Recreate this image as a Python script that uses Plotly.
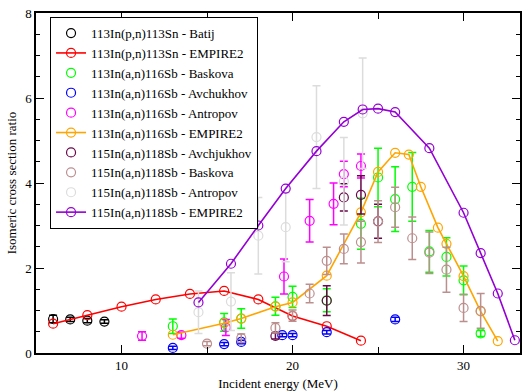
import plotly.graph_objects as go

# 113In(p,n)113Sn - Batij
batij_E = [6, 7, 8, 9]
batij_v = [0.80, 0.79, 0.76, 0.74]
batij_e = [0.09, 0.05, 0.05, 0.04]

# 113In(p,n)113Sn - EMPIRE2
emp1_E = [6, 8, 10, 12, 14, 16, 18, 20, 22, 24]
emp1_v = [0.69, 0.89, 1.09, 1.26, 1.39, 1.46, 1.26, 0.87, 0.63, 0.29]

# 113In(a,n)116Sb - Baskova
bask116_E = [13, 16, 17, 19, 20, 22, 24, 25, 26, 27, 28, 29, 30, 31]
bask116_v = [0.63, 0.72, 0.81, 1.10, 1.32, 1.24, 3.04, 4.13, 3.62, 3.91, 2.39, 2.26, 1.71, 0.46]
bask116_e = [0.17, 0.21, 0.23, 0.21, 0.25, 0.27, 0.60, 0.69, 0.76, 0.81, 0.49, 0.45, 0.34, 0.07]

# 113In(a,n)116Sb - Avchukhov
avch116_E = [13, 16, 17, 19.4, 20, 22, 26]
avch116_v = [0.12, 0.21, 0.26, 0.42, 0.42, 0.49, 0.79]
avch116_e = [0.04, 0.04, 0.04, 0.04, 0.04, 0.04, 0.05]

# 113In(a,n)116Sb - Antropov
antr116_E = [11.2, 13.5, 16.1, 19.5, 21, 22.4, 23, 24]
antr116_v = [0.40, 0.42, 0.60, 1.80, 3.11, 3.51, 4.21, 4.40]
antr116_e = [0.10, 0.07, 0.19, 0.41, 0.50, 0.49, 0.30, 0.28]

# 113In(a,n)116Sb - EMPIRE2
emp2_E = [13, 16, 17, 19, 20, 22, 24, 25, 26, 26.8, 27.5, 28.5, 29, 30, 31, 32]
emp2_v = [0.43, 0.70, 0.81, 1.09, 1.19, 1.82, 3.31, 4.26, 4.71, 4.67, 3.91, 2.95, 2.57, 1.81, 0.98, 0.28]

# 115In(a,n)118Sb - Avchjukhov
avch118_E = [19, 22, 23, 24, 25]
avch118_v = [0.40, 1.23, 3.66, 3.72, 3.10]
avch118_e = [0.07, 0.35, 0.32, 0.45, 0.40]

# 115In(a,n)118Sb - Baskova
bask118_E = [15, 17, 19, 20, 21, 22, 23, 24, 25, 26, 27, 28, 29, 30, 31]
bask118_v = [0.22, 0.35, 0.59, 0.88, 1.40, 2.17, 2.45, 2.61, 3.09, 3.43, 2.70, 2.36, 1.96, 1.06, 0.99]
bask118_e = [0.05, 0.10, 0.12, 0.13, 0.22, 0.32, 0.35, 0.49, 0.49, 0.47, 0.50, 0.49, 0.53, 0.32, 0.41]

# 115In(a,n)118Sb - Antropov
antr118_E = [14.5, 16.4, 18, 19.6, 21.4, 23, 24.1]
antr118_v = [0.96, 1.21, 2.76, 2.96, 5.08, 4.04, 5.64]
antr118_e = [0.50, 0.68, 0.90, 0.81, 1.21, 1.03, 1.30]

# 115In(a,n)118Sb - EMPIRE2
emp3_E = [14.5, 16.4, 18, 19.6, 21.4, 23, 24.1, 25, 26, 28, 30, 31, 32, 33]
emp3_v = [1.19, 2.10, 3.00, 3.87, 4.75, 5.44, 5.73, 5.75, 5.67, 4.82, 3.30, 2.35, 1.40, 0.30]

FONT = "Liberation Serif"

fig = go.Figure()


def data_trace(name, x, y, e, color):
    fig.add_trace(go.Scatter(
        x=x, y=y, name=name, mode="markers",
        marker=dict(symbol="circle-open", size=9, color=color, line=dict(width=1.2, color=color)),
        error_y=dict(type="data", array=e, visible=True, color=color, thickness=1.5, width=4),
    ))


def model_trace(name, x, y, color):
    fig.add_trace(go.Scatter(
        x=x, y=y, name=name, mode="lines+markers",
        line=dict(color=color, width=1.6),
        marker=dict(symbol="circle-open", size=9, color=color, line=dict(width=1.2, color=color)),
    ))


data_trace("113In(p,n)113Sn - Batij", batij_E, batij_v, batij_e, "#000000")
model_trace("113In(p,n)113Sn - EMPIRE2", emp1_E, emp1_v, "#FF0000")
data_trace("113In(a,n)116Sb - Baskova", bask116_E, bask116_v, bask116_e, "#00FF00")
data_trace("113In(a,n)116Sb - Avchukhov", avch116_E, avch116_v, avch116_e, "#0000FF")
data_trace("113In(a,n)116Sb - Antropov", antr116_E, antr116_v, antr116_e, "#FF00FF")
model_trace("113In(a,n)116Sb - EMPIRE2", emp2_E, emp2_v, "#FFA500")
data_trace("115In(a,n)118Sb - Avchjukhov", avch118_E, avch118_v, avch118_e, "#670748")
data_trace("115In(a,n)118Sb - Baskova", bask118_E, bask118_v, bask118_e, "#BC8F8F")
data_trace("115In(a,n)118Sb - Antropov", antr118_E, antr118_v, antr118_e, "#DCDCDC")
model_trace("115In(a,n)118Sb - EMPIRE2", emp3_E, emp3_v, "#9400D3")

fig.update_layout(
    width=523, height=391,
    margin=dict(l=36, r=1, t=13, b=36),
    paper_bgcolor="white", plot_bgcolor="white",
    font=dict(family=FONT, size=13, color="black"),
    showlegend=True,
    legend=dict(
        x=0.029, y=0.988, xanchor="left", yanchor="top",
        bgcolor="white", bordercolor="black", borderwidth=1,
        font=dict(family=FONT, size=13, color="black"),
        tracegroupgap=0, itemwidth=30,
    ),
)

fig.update_xaxes(
    range=[5, 33.3], showgrid=False, zeroline=False,
    showline=True, linecolor="black", linewidth=1.5, mirror="ticks",
    ticks="inside", ticklen=8, tickwidth=1, tickcolor="black",
    tick0=0, dtick=10,
    minor=dict(dtick=5, ticks="inside", ticklen=6, tickcolor="black", showgrid=False),
    tickfont=dict(family=FONT, size=13),
    title=dict(text="Incident energy (MeV)", font=dict(family=FONT, size=13), standoff=8),
)
fig.update_yaxes(
    range=[0, 8], showgrid=False, zeroline=False,
    showline=True, linecolor="black", linewidth=1.5, mirror="ticks",
    ticks="inside", ticklen=8, tickwidth=1, tickcolor="black",
    tick0=0, dtick=2,
    minor=dict(dtick=0.5, ticks="inside", ticklen=4, tickcolor="black", showgrid=False),
    tickfont=dict(family=FONT, size=13),
    title=dict(text="Isomeric cross section ratio", font=dict(family=FONT, size=13), standoff=6),
)

fig.write_html(
    "out.html",
    config={"displayModeBar": False},
    post_script="document.body.style.margin='0';document.body.style.padding='0';",
)
